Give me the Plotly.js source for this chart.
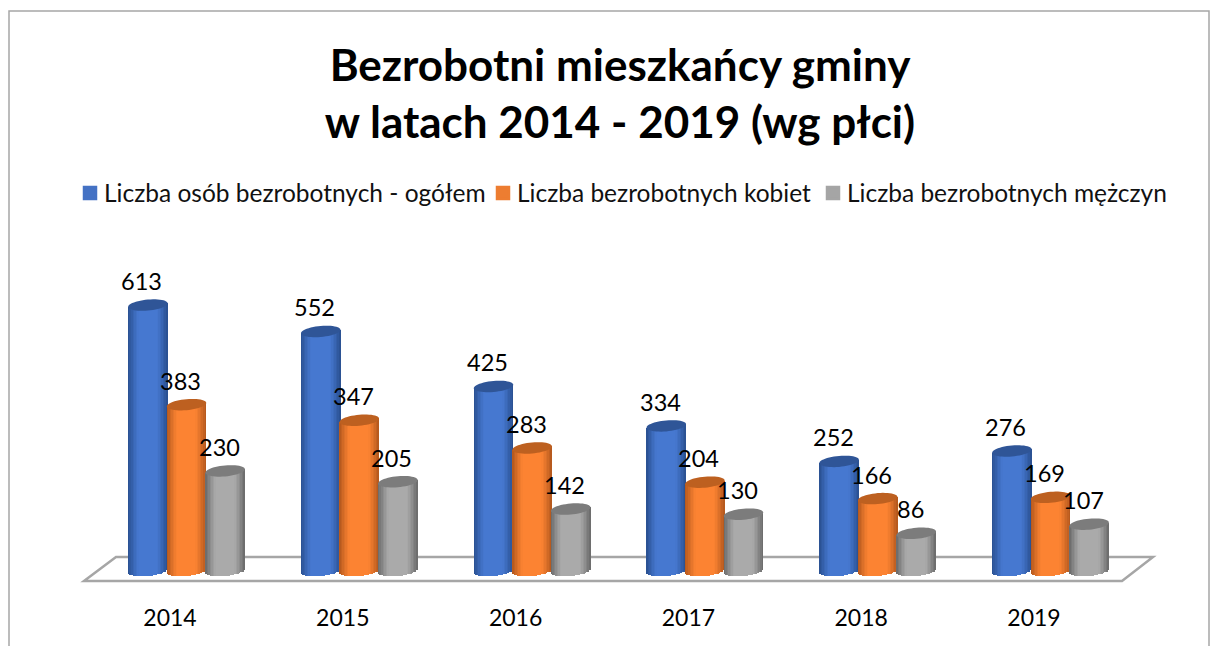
<!DOCTYPE html>
<html><head><meta charset="utf-8">
<script src="https://cdn.plot.ly/plotly-3.0.1.min.js"></script>
<style>html,body{margin:0;padding:0;background:#fff;overflow:hidden}</style></head>
<body><div id="chart" style="width:1219px;height:646px"></div>
<script>
const years = ["2014","2015","2016","2017","2018","2019"];
const seriesNames = ["Liczba osób bezrobotnych - ogółem","Liczba bezrobotnych kobiet","Liczba bezrobotnych mężczyn"];
const total = [613,552,425,334,252,276];
const women = [383,347,283,204,166,169];
const men = [230,205,142,130,86,107];
const seriesValues = [total, women, men];
const centerColors = [[70,120,208],[252,131,50],[170,170,170]];
const edgeColors = [[40,78,142],[176,86,28],[104,104,104]];
const capColors = ["#2f5597","#bd6020","#7c7c7c"];
const legendColors = ["#4472c4","#ed7d31","#a5a5a5"];
const legendWidths = [368,285,320];

const W=1219,H=646, mL=10,mR=10,mT=200,mB=44;
const pxPerCat=172.8, cx0=186.5, pxPerUnit=0.433, base0=570.5;
const xr=[(mL-cx0)/pxPerCat,(W-mR-cx0)/pxPerCat];
const yr=[-(H-mB-base0)/pxPerUnit,(base0-mT)/pxPerUnit];
const pw=W-mL-mR, ph=H-mT-mB;
const paperX=p=>(p-mL)/pw, paperY=p=>1-(p-mT)/ph;
const dx=p=>p/pxPerCat, dy=p=>p/pxPerUnit;

const barPx=39.5, stepPx=38.6, rY=5.5, tilt=1.7, N=26;
const traces=[], shapes=[], annotations=[];
const rgb=c=>`rgb(${c.map(v=>Math.round(v)).join(",")})`;

const fl=[[84,581],[116,557],[1153,557],[1122,581]];
shapes.push({type:"path",xref:"paper",yref:"paper",layer:"below",
  path:"M"+fl.map(p=>paperX(p[0])+","+paperY(p[1])).join("L")+"Z",
  fillcolor:"#fff",line:{color:"#a6a6a6",width:2.5}});
shapes.push({type:"path",xref:"paper",yref:"paper",layer:"below",
  path:`M${paperX(9)},${paperY(648)}L${paperX(9)},${paperY(11)}L${paperX(1209)},${paperY(11)}L${paperX(1209)},${paperY(648)}`,
  line:{color:"#a6a6a6",width:1.5}});

seriesValues.forEach((vals,s)=>{
  const off=(s-1)*stepPx;
  traces.push({type:"bar",name:seriesNames[s],x:[null],y:[null],legendwidth:legendWidths[s],
    marker:{color:legendColors[s],line:{color:legendColors[s],width:2.5}},showlegend:true,hoverinfo:"skip"});
  for(let k=0;k<N;k++){
    const t0=-1+2*k/N, t1=-1+2*(k+1)/N, t=(t0+t1)/2;
    const a=Math.abs(t);
    const f=a<0.45?0:Math.pow((a-0.45)/0.55,1.25);
    const col=centerColors[s].map((c,i)=>c+(edgeColors[s][i]-c)*f);
    const bx=t*barPx/2;
    const depth=rY*Math.sqrt(Math.max(0,1-t*t));
    const lowPx=-tilt*t+depth;
    const upPx=tilt*t;
    traces.push({type:"bar",showlegend:false,hoverinfo:"skip",
      x:years.map((_,i)=>i+dx(off+bx)),
      y:vals.map(v=>v+dy(upPx+lowPx)),
      base:vals.map(()=>-dy(lowPx)),
      width:dx(barPx/N+0.4),
      marker:{color:rgb(col),line:{width:0}}});
  }
  vals.forEach((v,i)=>{
    let pts=[];
    for(let a=0;a<48;a++){
      const th=a/48*2*Math.PI, c=Math.cos(th), sn=Math.sin(th);
      pts.push((i+dx(off+c*barPx/2))+","+(v+dy(tilt*c+sn*rY)));
    }
    shapes.push({type:"path",xref:"x",yref:"y",layer:"above",path:"M"+pts.join("L")+"Z",fillcolor:capColors[s],line:{width:0}});
    annotations.push({xref:"x",yref:"y",x:i+dx(off-6),y:v+dy(24),text:String(v),showarrow:false,
      xanchor:"center",yanchor:"middle",font:{family:"Lato, sans-serif",size:23.5,color:"#000"}});
  });
});

const layout={
  width:W,height:H,margin:{l:mL,r:mR,t:mT,b:mB,pad:0,autoexpand:false},
  paper_bgcolor:"#fff",plot_bgcolor:"rgba(0,0,0,0)",
  barmode:"overlay",bargap:0,showlegend:true,
  title:{text:"Bezrobotni mieszkańcy gminy<br>w latach 2014 - 2019 (wg płci)",
    x:620/W,xanchor:"center",y:1-80.5/H,yanchor:"middle",
    font:{family:"Lato, sans-serif",size:44,color:"#000",weight:700}},
  legend:{orientation:"h",x:64/W,y:1-193/H,xref:"container",yref:"container",yanchor:"middle",
    font:{family:"Lato, sans-serif",size:24.5,color:"#111"},itemwidth:30,bgcolor:"rgba(0,0,0,0)"},
  xaxis:{type:"linear",range:xr,tickmode:"array",tickvals:years.map((_,i)=>i-dx(16.5)),ticktext:years,
    showgrid:false,zeroline:false,showline:false,ticks:"",tickfont:{family:"Lato, sans-serif",size:23,color:"#000"}},
  yaxis:{range:yr,visible:false,showgrid:false,zeroline:false},
  shapes,annotations
};
Plotly.newPlot("chart",traces,layout,{displayModeBar:false,staticPlot:true}).then(()=>{
  document.querySelectorAll(".legend .traces .legendsymbols").forEach(el=>el.setAttribute("transform","translate(6,0)"));
});
</script></body></html>
